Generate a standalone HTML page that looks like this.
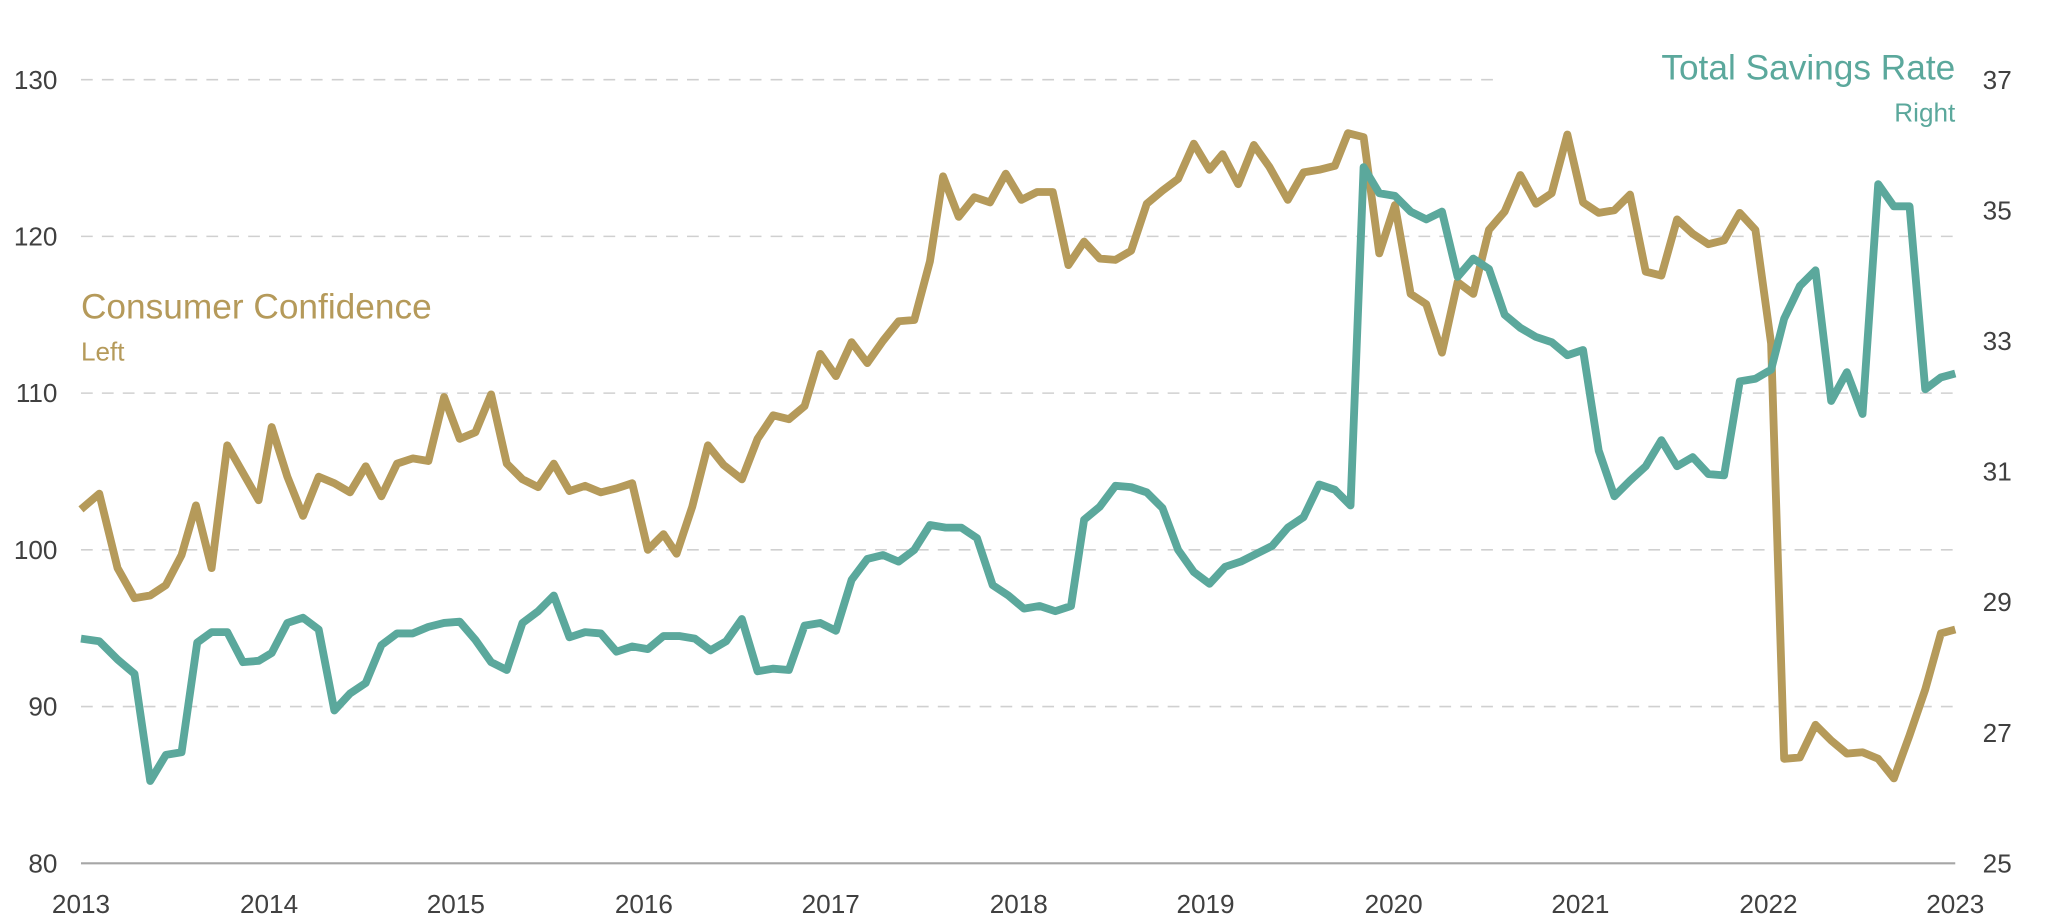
<!DOCTYPE html>
<html><head><meta charset="utf-8"><style>
html,body{margin:0;padding:0;background:#fff;}
svg{display:block;font-family:"Liberation Sans",sans-serif;}
</style></head><body>
<svg width="2048" height="924" viewBox="0 0 1568 707.5" preserveAspectRatio="none" xmlns="http://www.w3.org/2000/svg">
<g stroke="#d0d0d0" stroke-width="1.2" stroke-dasharray="9,7">
<line x1="62" y1="61" x2="1150" y2="61"/>
<line x1="62" y1="181" x2="1497" y2="181"/>
<line x1="62" y1="301" x2="1497" y2="301"/>
<line x1="62" y1="421" x2="1497" y2="421"/>
<line x1="62" y1="541" x2="1497" y2="541"/>
</g>
<line x1="62" y1="661" x2="1497" y2="661" stroke="#a6a6a6" stroke-width="1.6"/>
<g fill="#404040" font-size="20">
<g text-anchor="end">
<text x="44" y="68">130</text><text x="44" y="188">120</text><text x="44" y="308">110</text>
<text x="44" y="428">100</text><text x="44" y="548">90</text><text x="44" y="668">80</text>
</g>
<g text-anchor="start">
<text x="1518" y="68">37</text><text x="1518" y="168">35</text><text x="1518" y="268">33</text>
<text x="1518" y="368">31</text><text x="1518" y="468">29</text><text x="1518" y="568">27</text><text x="1518" y="668">25</text>
</g>
<g text-anchor="middle">
<text x="62" y="699">2013</text><text x="206" y="699">2014</text><text x="349" y="699">2015</text>
<text x="493" y="699">2016</text><text x="636" y="699">2017</text><text x="780" y="699">2018</text>
<text x="923" y="699">2019</text><text x="1067" y="699">2020</text><text x="1210" y="699">2021</text>
<text x="1354" y="699">2022</text><text x="1497" y="699">2023</text>
</g>
</g>
<text x="1497" y="61" text-anchor="end" font-size="27" fill="#5ba89c">Total Savings Rate</text>
<text x="1497" y="93" text-anchor="end" font-size="20" fill="#5ba89c">Right</text>
<text x="62" y="244" font-size="27" fill="#b59a5a">Consumer Confidence</text>
<text x="62" y="276" font-size="20" fill="#b59a5a">Left</text>
<polyline fill="none" stroke="#b59a5a" stroke-width="6" stroke-linejoin="round" points="62,390 76,378 90,435 103,458 115,456 127,448 139,425 150,387 162,435 174,341 186,362 198,383 208,327 220,365 232,395 244,365 256,370 268,377 280,357 292,380 304,355 316,351 328,353 340,304 352,336 364,331 376,302 388,355 400,367 412,373 424,355 436,376 448,372 460,377 472,374 484,370 496,421 508,409 518,424 530,388 542,341 554,356 568,367 580,336 592,318 604,321 616,311 628,271 640,288 652,262 664,278 676,261 688,246 700,245 712,200 722,135 734,166 746,151 758,155 770,133 782,153 794,147 806,147 818,203 830,185 842,198 854,199 866,192 878,156 890,146 902,137 914,110 926,130 936,118 948,141 960,111 972,128 986,153 998,132 1010,130 1022,127 1032,102 1044,105 1056,194 1068,157 1080,225 1092,233 1104,270 1116,216 1128,225 1140,176 1152,162 1164,134 1176,156 1188,148 1200,103 1212,155 1224,163 1236,161 1248,149 1260,208 1272,211 1284,168 1296,179 1308,187 1320,184 1332,163 1344,176 1356,263 1366,581 1378,580 1390,555 1402,567 1414,577 1426,576 1438,581 1450,596 1462,563 1474,528 1486,485 1497,482"/>
<polyline fill="none" stroke="#5ba89c" stroke-width="6" stroke-linejoin="round" points="62,489 76,491 90,505 103,516 115,598 127,578 139,576 151,492 162,484 174,484 186,507 198,506 208,500 220,477 232,473 244,482 256,544 268,531 280,523 292,494 304,485 316,485 328,480 340,477 352,476 364,490 376,507 388,513 400,477 412,468 424,456 436,488 448,484 460,485 472,499 484,495 496,497 508,487 520,487 532,489 544,498 556,491 568,474 580,514 592,512 604,513 616,479 628,477 640,483 652,444 664,428 676,425 688,430 700,421 712,402 724,404 736,404 748,412 760,448 772,456 784,466 796,464 808,468 820,464 830,398 842,388 854,372 866,373 878,377 890,389 902,421 914,438 926,447 938,434 950,430 962,424 974,418 986,404 998,396 1010,371 1022,375 1034,387 1044,128 1056,148 1068,150 1080,162 1092,168 1104,162 1116,212 1128,198 1140,206 1152,241 1164,251 1176,258 1188,262 1200,272 1212,268 1224,345 1236,380 1248,368 1260,357 1272,337 1284,357 1296,350 1308,363 1320,364 1332,292 1344,290 1356,283 1366,244 1378,219 1390,207 1402,307 1414,285 1426,317 1438,141 1450,158 1462,158 1474,298 1486,289 1497,286"/>
</svg>
</body></html>
